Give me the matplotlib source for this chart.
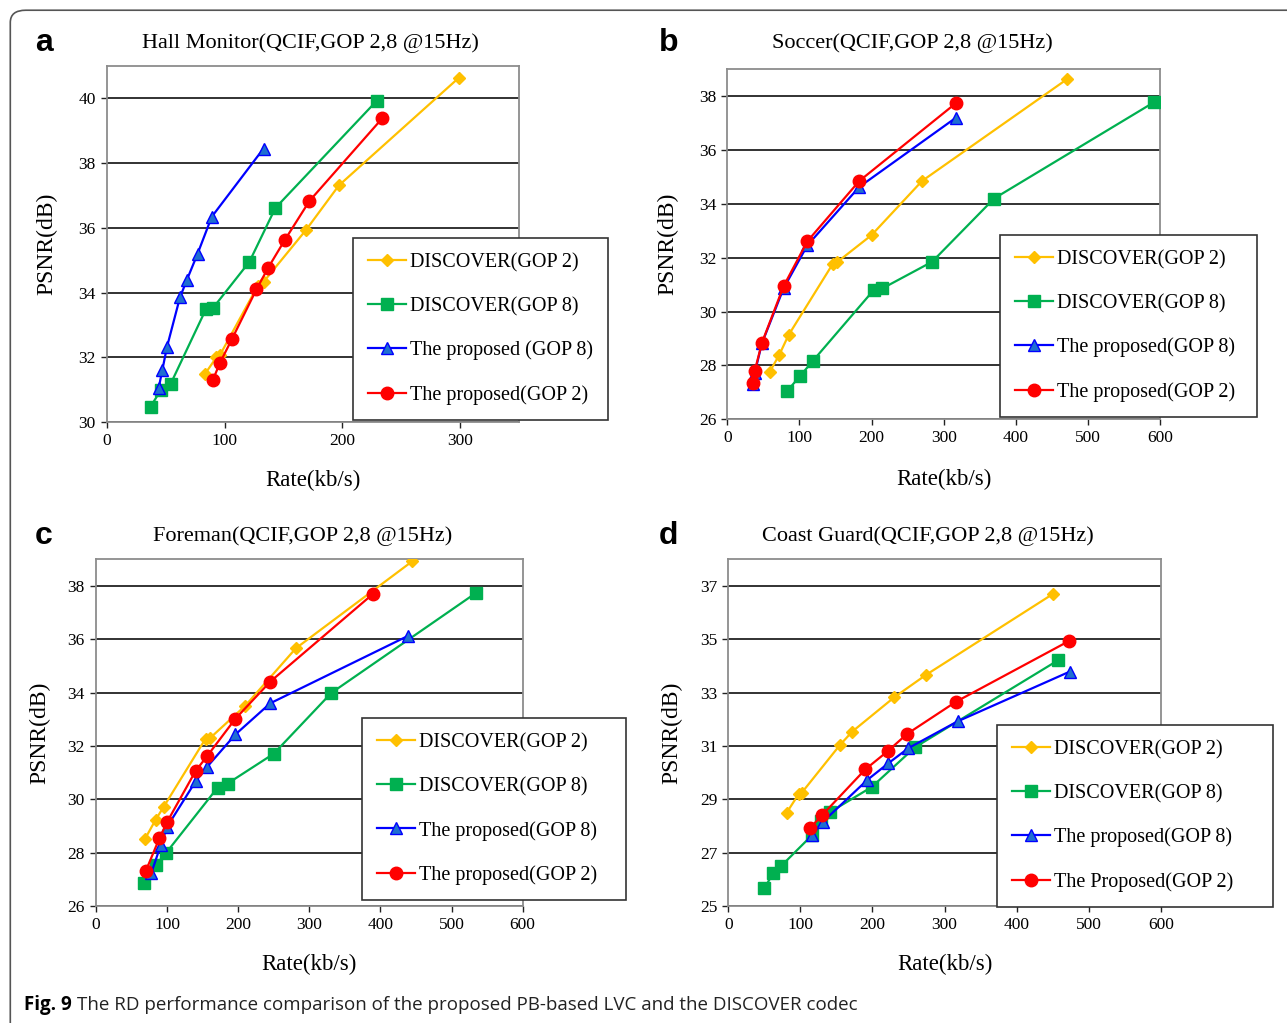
"""
RD performance comparison (PSNR vs rate) for four QCIF sequences
"""

import numpy as np
import matplotlib.pyplot as plt
from matplotlib.patches import FancyBboxPatch

# ---- data ----
# a: Hall Monitor
a_d2_x = [83, 93, 96, 128, 133, 169, 197, 299]
a_d2_y = [31.47, 32.0, 32.07, 34.2, 34.33, 35.93, 37.31, 40.64]
a_d8_x = [37, 46, 54, 84, 90, 121, 143, 229]
a_d8_y = [30.47, 31.0, 31.17, 33.48, 33.52, 34.95, 36.61, 39.92]
a_p8_x = [44, 47, 51, 62, 68, 77, 89, 133]
a_p8_y = [31.06, 31.6, 32.32, 33.85, 34.4, 35.2, 36.34, 38.45]
a_p2_x = [90, 96, 106, 127, 137, 151, 172, 234]
a_p2_y = [31.30, 31.83, 32.55, 34.1, 34.77, 35.62, 36.83, 39.39]

# b: Soccer
b_d2_x = [59, 72, 85, 146, 152, 200, 270, 471]
b_d2_y = [27.77, 28.39, 29.13, 31.76, 31.83, 32.84, 34.85, 38.63]
b_d8_x = [83, 101, 119, 203, 215, 284, 370, 592]
b_d8_y = [27.05, 27.61, 28.18, 30.80, 30.86, 31.85, 34.20, 37.78]
b_p8_x = [35, 38, 48, 78, 111, 183, 317]
b_p8_y = [27.30, 27.71, 28.82, 30.86, 32.46, 34.63, 37.2]
b_p2_x = [35, 38, 48, 78, 111, 183, 317]
b_p2_y = [27.36, 27.79, 28.84, 30.94, 32.61, 34.85, 37.74]

# c: Foreman
c_d2_x = [69, 84, 95, 154, 161, 210, 281, 445]
c_d2_y = [28.52, 29.24, 29.71, 32.27, 32.31, 33.51, 35.66, 38.93]
c_d8_x = [67, 84, 98, 171, 185, 250, 331, 535]
c_d8_y = [26.88, 27.53, 27.97, 30.44, 30.59, 31.71, 33.99, 37.75]
c_p8_x = [78, 91, 100, 140, 156, 196, 245, 439]
c_p8_y = [27.25, 28.28, 28.97, 30.67, 31.21, 32.43, 33.60, 36.13]
c_p2_x = [70, 89, 100, 140, 156, 196, 245, 389]
c_p2_y = [27.31, 28.53, 29.15, 31.06, 31.61, 33.02, 34.41, 37.69]

# d: Coast Guard
d_d2_x = [81, 98, 102, 155, 172, 230, 274, 451]
d_d2_y = [28.50, 29.21, 29.25, 31.04, 31.54, 32.82, 33.66, 36.71]
d_d8_x = [50, 62, 73, 116, 129, 141, 199, 259, 458]
d_d8_y = [25.66, 26.22, 26.49, 27.65, 28.2, 28.52, 29.46, 30.95, 34.22]
d_p8_x = [116, 131, 193, 222, 250, 318, 474]
d_p8_y = [27.65, 28.15, 29.73, 30.35, 30.92, 31.92, 33.79]
d_p2_x = [114, 130, 190, 221, 248, 316, 473]
d_p2_y = [27.94, 28.40, 30.12, 30.80, 31.45, 32.66, 34.94]

titles = ['Hall Monitor(QCIF,GOP 2,8 @15Hz)', 'Soccer(QCIF,GOP 2,8 @15Hz)',
          'Foreman(QCIF,GOP 2,8 @15Hz)', 'Coast Guard(QCIF,GOP 2,8 @15Hz)']
letters = ['a', 'b', 'c', 'd']
labels_a = ['DISCOVER(GOP 2)', 'DISCOVER(GOP 8)', 'The proposed (GOP 8)', 'The proposed(GOP 2)']
labels_b = ['DISCOVER(GOP 2)', 'DISCOVER(GOP 8)', 'The proposed(GOP 8)', 'The proposed(GOP 2)']
labels_d = ['DISCOVER(GOP 2)', 'DISCOVER(GOP 8)', 'The proposed(GOP 8)', 'The Proposed(GOP 2)']

panels = [
    dict(series=[(a_d2_x, a_d2_y), (a_d8_x, a_d8_y), (a_p8_x, a_p8_y), (a_p2_x, a_p2_y)],
         labels=labels_a, xlim=(0, 350), xticks=[0, 100, 200, 300],
         ylim=(30, 41), yticks=np.arange(30, 41, 2),
         pos=[0.0831, 0.5875, 0.3202, 0.348], legend=(0.2743, 0.7674, 0.198),
         title_x=0.241, letter=(0.027, 0.958), ylab_x=0.036, xlab_y=0.530),
    dict(series=[(b_d2_x, b_d2_y), (b_d8_x, b_d8_y), (b_p8_x, b_p8_y), (b_p2_x, b_p2_y)],
         labels=labels_b, xlim=(0, 600), xticks=np.arange(0, 601, 100),
         ylim=(26, 39), yticks=np.arange(26, 39, 2),
         pos=[0.5651, 0.5901, 0.3362, 0.3422], legend=(0.777, 0.7703, 0.200),
         title_x=0.709, letter=(0.512, 0.958), ylab_x=0.519, xlab_y=0.531),
    dict(series=[(c_d2_x, c_d2_y), (c_d8_x, c_d8_y), (c_p8_x, c_p8_y), (c_p2_x, c_p2_y)],
         labels=labels_b, xlim=(0, 600), xticks=np.arange(0, 601, 100),
         ylim=(26, 39), yticks=np.arange(26, 39, 2),
         pos=[0.0746, 0.1144, 0.3315, 0.3389], legend=(0.2813, 0.2981, 0.205),
         title_x=0.235, letter=(0.027, 0.476), ylab_x=0.031, xlab_y=0.057),
    dict(series=[(d_d2_x, d_d2_y), (d_d8_x, d_d8_y), (d_p8_x, d_p8_y), (d_p2_x, d_p2_y)],
         labels=labels_d, xlim=(0, 600), xticks=np.arange(0, 601, 100),
         ylim=(25, 38), yticks=np.arange(25, 38, 2),
         pos=[0.5659, 0.1144, 0.336, 0.3389], legend=(0.7747, 0.2913, 0.2145),
         title_x=0.721, letter=(0.512, 0.476), ylab_x=0.522, xlab_y=0.057),
]

# line styles: colour, marker, size, marker face
styles = [
    dict(color='#FFC000', marker='D', ms=6.5, mfc='#FFC000', mec='#FFC000'),
    dict(color='#00B050', marker='s', ms=8, mfc='#00B050', mec='#00B050'),
    dict(color='#0000FF', marker='^', ms=8.5, mfc='#1F6FD0', mec='#0000FF'),
    dict(color='#FF0000', marker='o', ms=9, mfc='#FF0000', mec='#FF0000'),
]

serif = 'Liberation Serif'

fig = plt.figure(figsize=(12.87, 10.23), dpi=100)

# rounded frame round the whole figure
frame = FancyBboxPatch((0.008, -0.05), 1.05, 1.04, boxstyle='round,pad=0,rounding_size=0.012',
                       transform=fig.transFigure, fill=False, ec='#555555', lw=1.2)
fig.patches.append(frame)

for i, p in enumerate(panels):
    ax = fig.add_axes(p['pos'])
    handles = []
    for (x, y), st, lab in zip(p['series'], styles, p['labels']):
        h, = ax.plot(x, y, color=st['color'], lw=1.6, marker=st['marker'], ms=st['ms'],
                     mfc=st['mfc'], mec=st['mec'], mew=1.0, label=lab, zorder=3)
        handles.append(h)
    ax.set_xlim(*p['xlim'])
    ax.set_ylim(*p['ylim'])
    ax.set_xticks(p['xticks'])
    ax.set_yticks(p['yticks'])
    ax.yaxis.grid(True, color='#222222', lw=1.3)
    ax.set_axisbelow(True)
    for s in ax.spines.values():
        s.set_color('#8c8c8c')
        s.set_linewidth(1.3)
    ax.tick_params(axis='both', length=4, color='#222222', width=1.0, labelsize=12.5, pad=4)
    for t in ax.get_xticklabels() + ax.get_yticklabels():
        t.set_fontfamily(serif)

    leg = ax.legend(handles=handles, loc='upper left',
                    bbox_to_anchor=(p['legend'][0], p['legend'][1] - 0.2, p['legend'][2], 0.2),
                    bbox_transform=fig.transFigure, mode='expand',
                    prop={'family': serif, 'size': 14.5}, frameon=True, fancybox=False,
                    edgecolor='#333333', framealpha=1, borderpad=0.75, labelspacing=1.22,
                    handlelength=1.9, handletextpad=0.2, borderaxespad=0)
    leg.get_frame().set_linewidth(1.2)

    fig.text(p['title_x'], p['letter'][1], titles[i], family=serif, fontsize=16,
             ha='center', va='center')
    fig.text(p['letter'][0], p['letter'][1], letters[i], family='Liberation Sans',
             fontweight='bold', fontsize=23, ha='left', va='center')
    fig.text(p['ylab_x'], p['pos'][1] + p['pos'][3] / 2, 'PSNR(dB)', family=serif,
             fontsize=17, rotation=90, ha='center', va='center')
    fig.text(p['pos'][0] + p['pos'][2] / 2, p['xlab_y'], 'Rate(kb/s)', family=serif,
             fontsize=16.5, ha='center', va='center')

# caption: bold "Fig. 9" then the plain text right after it
cap1 = fig.text(0.019, 0.0175, 'Fig. 9', family='Open Sans', fontweight='bold',
                fontsize=13.5, ha='left', va='center')
fig.canvas.draw()
bb = cap1.get_window_extent().transformed(fig.transFigure.inverted())
fig.text(bb.x1 + 0.004, 0.0175,
         'The RD performance comparison of the proposed PB-based LVC and the DISCOVER codec',
         family='Open Sans', fontsize=13.5, ha='left', va='center', color='#222222')

fig.savefig('out.png', dpi=100)
